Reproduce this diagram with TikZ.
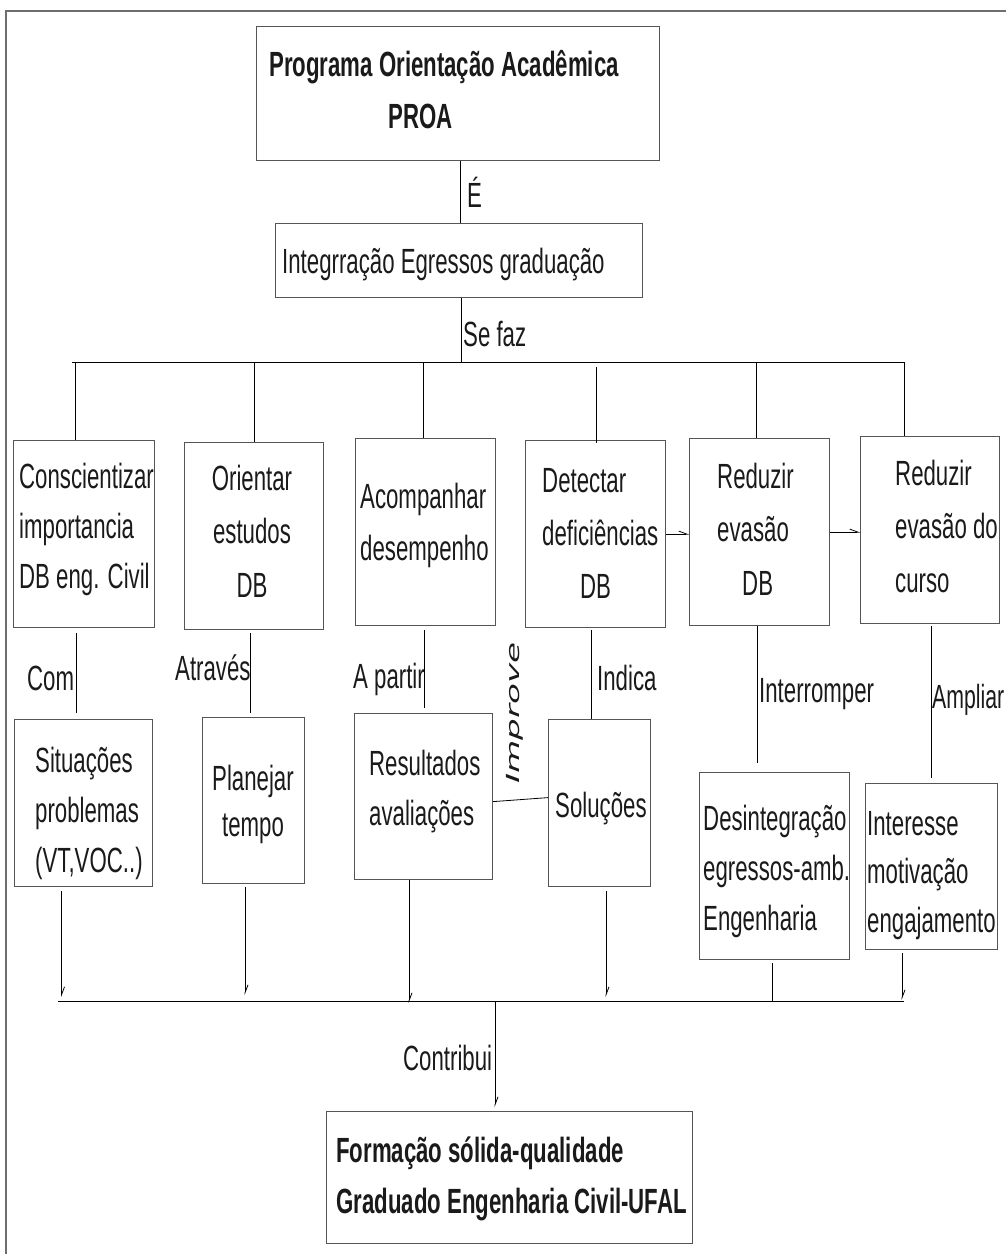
\documentclass[tikz,border=0pt]{standalone}
\usepackage{fontspec}
\setmainfont{Liberation Sans}[FakeStretch=0.635]
\newfontfamily\impfont{DejaVu Sans}[FakeStretch=1.9]
\usetikzlibrary{arrows.meta}
\definecolor{boxgray}{HTML}{555555}
\definecolor{framegray}{HTML}{6E6E6E}
\definecolor{ink}{HTML}{1A1A1A}
\newcommand\BOX[5]{\node[bx, minimum width={#4-#2}, minimum height={#5-#3}, anchor=north west] (#1) at (#2,#3) {};}
\newcommand\TXL[5]{\node[txt, align=left, anchor=north west, font=\fontsize{35}{#5}\selectfont] (#1) at (#2,#3-30) {#4};}
\newcommand\TXC[5]{\node[txt, align=center, anchor=north, font=\fontsize{35}{#5}\selectfont] (#1) at (#2,#3-30) {#4};}
\newcommand\st{\rule{0pt}{30pt}}
\begin{document}
\begin{tikzpicture}[x=1pt,y=-1pt,
  bx/.style={draw=boxgray, line width=1.2pt, inner sep=0pt, rectangle},
  txt/.style={inner sep=0pt, text=ink},
  lbl/.style={inner sep=0pt, text=ink, font=\fontsize{35}{40}\selectfont, anchor=base west},
  ln/.style={draw=black, line width=0.8pt},
  arr/.style={ln, -{Straight Barb[harpoon, length=8pt, width=6pt, line width=0.8pt]}},
  frame/.style={draw=framegray, line width=1.5pt}]
\useasboundingbox (0,0) rectangle (1005,1254);
\draw[frame] (1006,11) -- (6,11) -- (6,1256);

% boxes
\BOX{top}{256}{26}{659}{160}
\BOX{integ}{275}{223}{642}{297}
\BOX{b1}{13}{440}{154}{627}
\BOX{b2}{184}{442}{323}{629}
\BOX{b3}{355}{438}{495}{625}
\BOX{b4}{525}{440}{665}{627}
\BOX{b5}{689}{438}{829}{625}
\BOX{b6}{860}{436}{999}{623}
\BOX{c1}{14}{719}{152}{886}
\BOX{c2}{202}{717}{304}{883}
\BOX{c3}{354}{713}{492}{879}
\BOX{c4}{548}{719}{650}{886}
\BOX{c5}{699}{772}{849}{959}
\BOX{c6}{865}{783}{997}{949}
\BOX{bot}{326}{1111}{692}{1243}

% box texts
\TXL{ttop}{269}{76}{\st\bfseries Programa Orientação Acadêmica\\\bfseries\hspace*{119pt}PROA}{52}
\TXL{tinteg}{282}{273}{\st Integrração Egressos graduação}{52}
\TXL{tb1}{19}{488}{\st Conscientizar\\importancia\\DB eng. Civil}{50}
\TXC{tb2}{252}{490}{\st Orientar\\estudos\\DB}{53.5}
\TXL{tb3}{360}{508}{\st Acompanhar\\desempenho}{52}
\TXL{tb4}{542}{492}{\st Detectar\\deficiências\\\hspace*{38pt}DB}{53}
\TXL{tb5}{717}{488}{\st Reduzir\\evasão\\\hspace*{25pt}DB}{53.5}
\TXL{tb6}{895}{485}{\st Reduzir\\evasão do\\curso}{53.5}
\TXL{tc1}{35}{772}{\st Situações\\problemas\\(VT,VOC..)}{50}
\TXC{tc2}{253}{790}{\st Planejar\\tempo}{46}
\TXL{tc3}{369}{775}{\st Resultados\\avaliações}{50}
\TXL{tc4}{555}{817}{\st Soluções}{50}
\TXL{tc5}{703}{830}{\st Desintegração\\egressos-amb.\\Engenharia}{50}
\TXL{tc6}{867}{835}{\st Interesse\\motivação\\engajamento}{48.5}
\TXL{tbot}{336}{1162}{\st\bfseries Formação sólida-qualidade\\\bfseries Graduado Engenharia Civil-UFAL}{51}

% connector labels
\node[lbl] (lE) at (467,207) {É};
\node[lbl] (lSe) at (463,346) {Se faz};
\node[lbl] (lCom) at (27,690) {Com};
\node[lbl] (lAtr) at (175,680) {Através};
\node[lbl] (lApa) at (353,688) {A partir};
\node[lbl] (lInd) at (597,690) {Indica};
\node[lbl] (lInt) at (759,702) {Interromper};
\node[lbl, font=\fontsize{33.5}{40}\selectfont] (lAmp) at (932,708) {Ampliar};
\node[lbl] (lCon) at (403,1070) {Contribui};
\node[inner sep=0pt, text=ink, rotate=90, font=\impfont\itshape\fontsize{18}{20}\selectfont] (lImp) at (515,713) {Improve};

% top part
\coordinate (xa) at (460,0);
\coordinate (xb) at (461,362);
\draw[ln] (top.south -| xa) -- (integ.north -| xa);
\draw[ln] (integ.south -| xb) -- (xb);
\coordinate (busL) at (72,362);
\coordinate (busR) at (904,362);
\draw[ln] (busL) -- (busR);
\coordinate (d1) at (75,362);
\coordinate (d2) at (254,362);
\coordinate (d3) at (423,362);
\coordinate (d4) at (596,362);
\coordinate (d5) at (756,362);
\coordinate (d6) at (904,362);
\draw[ln] (d1) -- (b1.north -| d1);
\draw[ln] (d2) -- (b2.north -| d2);
\draw[ln] (d3) -- (b3.north -| d3);
\draw[ln, shorten <=5pt, shorten >=-3pt] (d4) -- (b4.north -| d4);
\draw[ln] (d5) -- (b5.north -| d5);
\draw[ln] (d6) -- (b6.north -| d6);

% middle connectors
\coordinate (k1) at (76,0);
\coordinate (k2) at (250,0);
\coordinate (k3) at (424,0);
\coordinate (k4) at (591,0);
\coordinate (k5) at (757,0);
\coordinate (k6) at (931,0);
\draw[ln, shorten <=5pt, shorten >=6pt] (b1.south -| k1) -- (c1.north -| k1);
\draw[ln, shorten <=3pt, shorten >=4pt] (b2.south -| k2) -- (c2.north -| k2);
\draw[ln, shorten <=4pt, shorten >=5pt] (b3.south -| k3) -- (c3.north -| k3);
\draw[ln, shorten <=2pt] (b4.south -| k4) -- (c4.north -| k4);
\draw[ln, shorten >=9pt] (b5.south -| k5) -- (c5.north -| k5);
\draw[ln, shorten <=2pt, shorten >=5pt] (b6.south -| k6) -- (c6.north -| k6);
\draw[ln] ([yshift=-5pt]c3.east) -- ([yshift=5.5pt]c4.west);
\draw[arr] (b4.east) -- (b4.east -| b5.west);
\draw[arr] (b5.east) -- (b5.east -| b6.west);

% bottom bus
\coordinate (L2) at (58,1001);
\coordinate (R2) at (904,1001);
\draw[ln] (L2) -- (R2);
\coordinate (m1) at (61.5,1001);
\coordinate (m2) at (245,1001);
\coordinate (m3) at (409,1001);
\coordinate (m4) at (606,1001);
\coordinate (m5) at (772,1001);
\coordinate (m6) at (902,1001);
\draw[arr, shorten <=4pt, shorten >=4pt] (c1.south -| m1) -- (m1);
\draw[arr, shorten <=3pt, shorten >=6pt] (c2.south -| m2) -- (m2);
\draw[arr, shorten >=-2pt] (c3.south -| m3) -- (m3);
\draw[arr, shorten <=4pt, shorten >=4pt] (c4.south -| m4) -- (m4);
\draw[ln, shorten <=3pt] (c5.south -| m5) -- (m5);
\draw[arr, shorten <=3pt, shorten >=1pt] (c6.south -| m6) -- (m6);
\coordinate (m0) at (495,1001);
\draw[arr, shorten >=4pt] (m0) -- (bot.north -| m0);
\end{tikzpicture}
\end{document}
